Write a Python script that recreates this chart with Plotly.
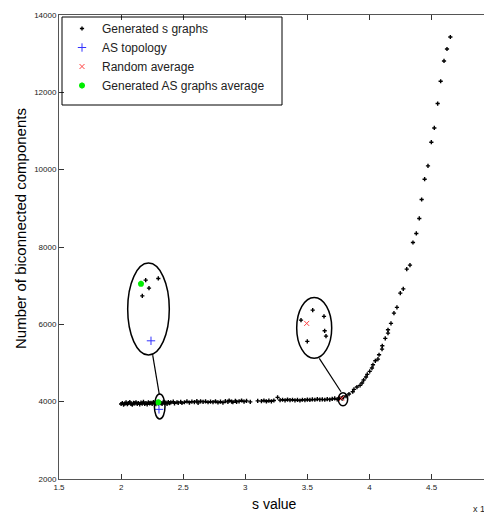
import plotly.graph_objects as go

# ---------------- data ----------------
# Generated s graphs (s value in units of 1e4, number of biconnected components)
s_flat = [2.00, 2.01, 2.02, 2.03, 2.04, 2.05, 2.06, 2.07, 2.08, 2.09,
          2.10, 2.11, 2.12, 2.13, 2.14, 2.15, 2.16, 2.17, 2.18, 2.19,
          2.20, 2.21, 2.22, 2.23, 2.24, 2.25, 2.26, 2.27, 2.28, 2.29,
          2.30, 2.31, 2.32, 2.33, 2.34, 2.35, 2.36, 2.37, 2.38, 2.39,
          2.40, 2.42, 2.43, 2.45, 2.46, 2.48, 2.49, 2.51, 2.53, 2.55,
          2.57, 2.59, 2.61, 2.62, 2.64, 2.66, 2.68, 2.70, 2.72, 2.74,
          2.76, 2.78, 2.80, 2.82, 2.84, 2.86, 2.87, 2.89, 2.90, 2.92,
          2.93, 2.95, 2.97, 2.99, 3.01, 3.04, 3.10, 3.13, 3.15, 3.17,
          3.19, 3.21, 3.23, 3.26, 3.28, 3.30, 3.32, 3.34, 3.36, 3.38,
          3.40, 3.42, 3.44, 3.46, 3.48, 3.50, 3.52, 3.54, 3.56, 3.58,
          3.60, 3.62, 3.64, 3.66, 3.68, 3.70, 3.72, 3.74, 3.76, 3.78]
bcc_flat = [3940, 3965, 3925, 3950, 3980, 3935, 3960, 3990, 3945, 3920,
            3970, 3955, 3985, 3940, 3965, 3930, 3975, 3950, 3995, 3940,
            3960, 3930, 3985, 3955, 3970, 3945, 3990, 3960, 3935, 3975,
            3950, 3985, 3960, 3940, 3995, 3965, 3975, 3945, 3990, 3960,
            3980, 4000, 3955, 3985, 3970, 3995, 3965, 3985, 4005, 3975,
            4000, 3990, 4015, 3970, 4010, 3995, 4005, 3985, 4000, 3990,
            4010, 3980, 4000, 3975, 4015, 3995, 4030, 4000, 3985, 4020,
            3995, 4010, 4030, 4000, 4020, 3995, 4020, 4015, 4030, 4005,
            4025, 4010, 4030, 4110, 4040, 4050, 4035, 4055, 4040, 4050,
            4035, 4045, 4030, 4050, 4040, 4055, 4045, 4060, 4050, 4065,
            4055, 4060, 4050, 4065, 4055, 4070, 4085, 4060, 4095, 4075]
s_rise = [3.787, 3.811, 3.835, 3.865, 3.875, 3.899, 3.924, 3.940, 3.953, 3.972,
          3.982, 4.002, 4.020, 4.028, 4.047, 4.068, 4.077, 4.101, 4.103, 4.127,
          4.149, 4.149, 4.173, 4.197, 4.221, 4.248, 4.272, 4.300, 4.326, 4.350,
          4.377, 4.401, 4.420, 4.444, 4.471, 4.498, 4.522, 4.549, 4.573, 4.600,
          4.624, 4.651]
bcc_rise = [4119, 4145, 4197, 4256, 4318, 4378, 4422, 4481, 4559, 4636,
            4706, 4783, 4869, 4954, 5057, 5101, 5213, 5360, 5445, 5636,
            5773, 5859, 6024, 6290, 6438, 6807, 6918, 7427, 7531, 8117,
            8350, 8738, 9229, 9754, 10097, 10710, 11079, 11710, 12286, 12811,
            13121, 13431]

as_topology_s = [2.305]
as_topology_bcc = [3801]
random_avg_s = [3.776]
random_avg_bcc = [4086]
gen_as_avg_s = [2.2995]
gen_as_avg_bcc = [3982]

# magnified insets (drawn inside the large ellipses)
inset_left_gen_s = [2.198, 2.2995, 2.2246, 2.1707]
inset_left_gen_bcc = [7143, 7187, 6936, 6737]
inset_left_as_s = [2.2407]
inset_left_as_bcc = [5574]
inset_left_avg_s = [2.160]
inset_left_avg_bcc = [7047]
inset_right_gen_s = [3.5427, 3.4485, 3.6337, 3.639, 3.6498, 3.4992]
inset_right_gen_bcc = [6368, 6109, 6205, 5833, 5696, 5559]
inset_right_rand_s = [3.4944]
inset_right_rand_bcc = [6024]

x_ticks = [1.5, 2, 2.5, 3, 3.5, 4, 4.5]
y_ticks = [2000, 4000, 6000, 8000, 10000, 12000, 14000]

# ---------------- figure ----------------
FONT = "Liberation Sans, Arial, sans-serif"
W, H = 484, 512
L, R, T, B = 59, 0, 15, 33
PW, PH = W - L - R, H - T - B


def px(xp):
    return (xp - L) / PW


def py(yp):
    return (H - B - yp) / PH


gen_marker = dict(symbol="cross", size=3.5, color="black")
as_marker = dict(symbol="cross-thin", size=6, line=dict(color="#3333ff", width=1), color="#3333ff")
rand_marker = dict(symbol="x-thin", size=5, line=dict(color="#ff4444", width=1), color="#ff4444")
avg_marker = dict(symbol="asterisk-open", size=5, line=dict(color="#00ee00", width=2), color="#00ee00")

fig = go.Figure()
fig.add_trace(go.Scatter(x=s_flat + s_rise, y=bcc_flat + bcc_rise, mode="markers",
                         marker=gen_marker, name="Generated s graphs"))
fig.add_trace(go.Scatter(x=as_topology_s, y=as_topology_bcc, mode="markers",
                         marker=as_marker, name="AS topology"))
fig.add_trace(go.Scatter(x=random_avg_s, y=random_avg_bcc, mode="markers",
                         marker=rand_marker, name="Random average"))
fig.add_trace(go.Scatter(x=gen_as_avg_s, y=gen_as_avg_bcc, mode="markers",
                         marker=avg_marker, name="Generated AS graphs average"))

# insets
for xs, ys, mk in [(inset_left_gen_s, inset_left_gen_bcc, gen_marker),
                   (inset_left_as_s, inset_left_as_bcc, as_marker),
                   (inset_left_avg_s, inset_left_avg_bcc, avg_marker),
                   (inset_right_gen_s, inset_right_gen_bcc, gen_marker),
                   (inset_right_rand_s, inset_right_rand_bcc, rand_marker)]:
    fig.add_trace(go.Scatter(x=xs, y=ys, mode="markers", marker=mk, showlegend=False))

# ellipses and connectors
ell = dict(type="circle", xref="x", yref="y", line=dict(color="black", width=1.5))
fig.add_shape(**ell, x0=2.2206 - 0.1675, x1=2.2206 + 0.1675, y0=6394 - 1189, y1=6394 + 1189)
fig.add_shape(**ell, x0=2.3108 - 0.0427, x1=2.3108 + 0.0427, y0=3874 - 323, y1=3874 + 323)
fig.add_shape(**ell, x0=3.5548 - 0.1409, x1=3.5548 + 0.1409, y0=5908 - 788, y1=5908 + 788)
fig.add_shape(**ell, x0=3.7866 - 0.0378, x1=3.7866 + 0.0378, y0=4062 - 168, y1=4062 + 168)
ln = dict(type="line", xref="x", yref="y", line=dict(color="black", width=1.2))
fig.add_shape(**ln, x0=2.2544, y0=5205, x1=2.3076, y1=4189)
fig.add_shape(**ln, x0=3.5958, y0=5119, x1=3.7705, y1=4256)

# legend frame
fig.add_shape(type="rect", xref="paper", yref="paper",
              x0=px(62), x1=px(282), y0=py(105), y1=py(17),
              line=dict(color="black", width=1), fillcolor="rgba(0,0,0,0)")

axis_common = dict(showline=True, linecolor="#555555", linewidth=1, ticks="inside",
                   ticklen=5, tickcolor="#333333", showgrid=False, zeroline=False,
                   tickfont=dict(family=FONT, size=8, color="#222222"))
fig.update_xaxes(**axis_common, range=[1.5, 4.922], tickvals=x_ticks,
                 ticktext=[("%g" % v) for v in x_ticks], mirror="ticks")
fig.update_yaxes(**axis_common, range=[2000, 14000], tickvals=y_ticks,
                 ticktext=[str(v) for v in y_ticks], mirror=False)

fig.add_annotation(text="Number of biconnected components", textangle=-90,
                   xref="paper", yref="paper", x=px(21), y=py(229),
                   xanchor="center", yanchor="middle",
                   showarrow=False, font=dict(family=FONT, size=15, color="black"))
fig.add_annotation(text="s value", xref="paper", yref="paper",
                   x=px(274), y=py(504), xanchor="center", yanchor="middle",
                   showarrow=False, font=dict(family=FONT, size=14, color="black"))
fig.add_annotation(text="x 10<sup>4</sup>", xref="paper", yref="paper",
                   x=px(471), xanchor="left", y=py(508), yanchor="middle",
                   showarrow=False, font=dict(family=FONT, size=9, color="#222222"))

fig.update_layout(
    width=W, height=H,
    margin=dict(l=L, r=R, t=T, b=B),
    paper_bgcolor="white", plot_bgcolor="white",
    showlegend=True,
    legend=dict(x=px(62), y=py(14), xanchor="left", yanchor="top",
                borderwidth=0, bgcolor="rgba(0,0,0,0)",
                font=dict(family=FONT, size=12, color="#222222"),
                tracegroupgap=0),
)

fig.write_html("out.html", config={"displayModeBar": False},
               post_script="document.body.style.margin='0';")
